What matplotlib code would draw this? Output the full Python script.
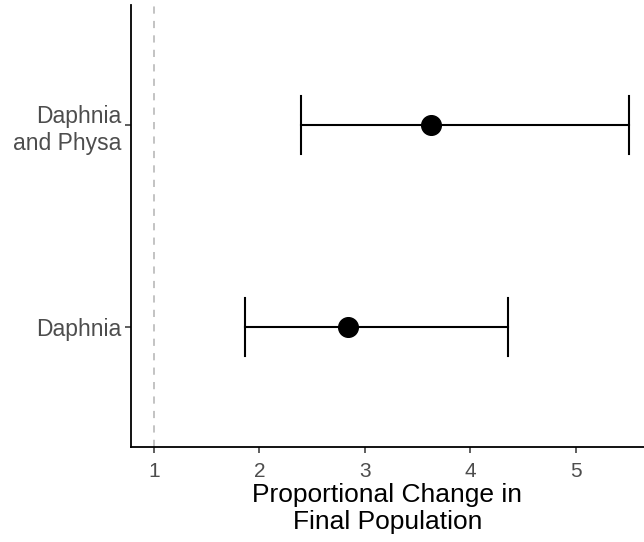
import matplotlib.pyplot as plt

# treatments and proportional change estimates with interval bounds
tratamientos = ["Daphnia", "Daphnia\nand Physa"]
estimado = [2.84, 3.63]
inferior = [1.86, 2.39]
superior = [4.36, 5.50]

plt.rcParams['font.family'] = ['Liberation Sans', 'DejaVu Sans']

fig = plt.figure(figsize=(6.44, 5.42), dpi=100)
ax = fig.add_axes([131 / 644, 95 / 542, 513 / 644, 442 / 542])

posiciones = list(range(1, len(tratamientos) + 1))

ax.axvline(1, color="#bebebe", linestyle=(0, (4, 4)), linewidth=1.3, zorder=1)

for y, est, lo, hi in zip(posiciones, estimado, inferior, superior):
    ax.plot([lo, hi], [y, y], color="black", linewidth=1.5, zorder=2)
    for x in (lo, hi):
        ax.plot([x, x], [y - 0.145, y + 0.145], color="black", linewidth=1.5, zorder=2)
ax.scatter(estimado, posiciones, s=200, color="black", zorder=3)

ax.set_xlim(0.782, 5.645)
ax.set_ylim(0.405, 2.595)
ax.set_xticks([1, 2, 3, 4, 5])
ax.set_yticks(posiciones)
ax.set_yticklabels(tratamientos, ha="right", multialignment="right", linespacing=1.22)
ax.tick_params(axis="both", labelcolor="#4d4d4d", length=4, width=1.1, color="#333333")
ax.tick_params(axis="x", labelsize=15, pad=7)
ax.tick_params(axis="y", labelsize=16.5, pad=3)

for lado in ("top", "right"):
    ax.spines[lado].set_visible(False)
for lado in ("left", "bottom"):
    ax.spines[lado].set_linewidth(1.3)

ax.set_xlabel("Proportional Change in\nFinal Population", fontsize=19, linespacing=1.15, labelpad=1)

fig.savefig("out.png", dpi=100)
